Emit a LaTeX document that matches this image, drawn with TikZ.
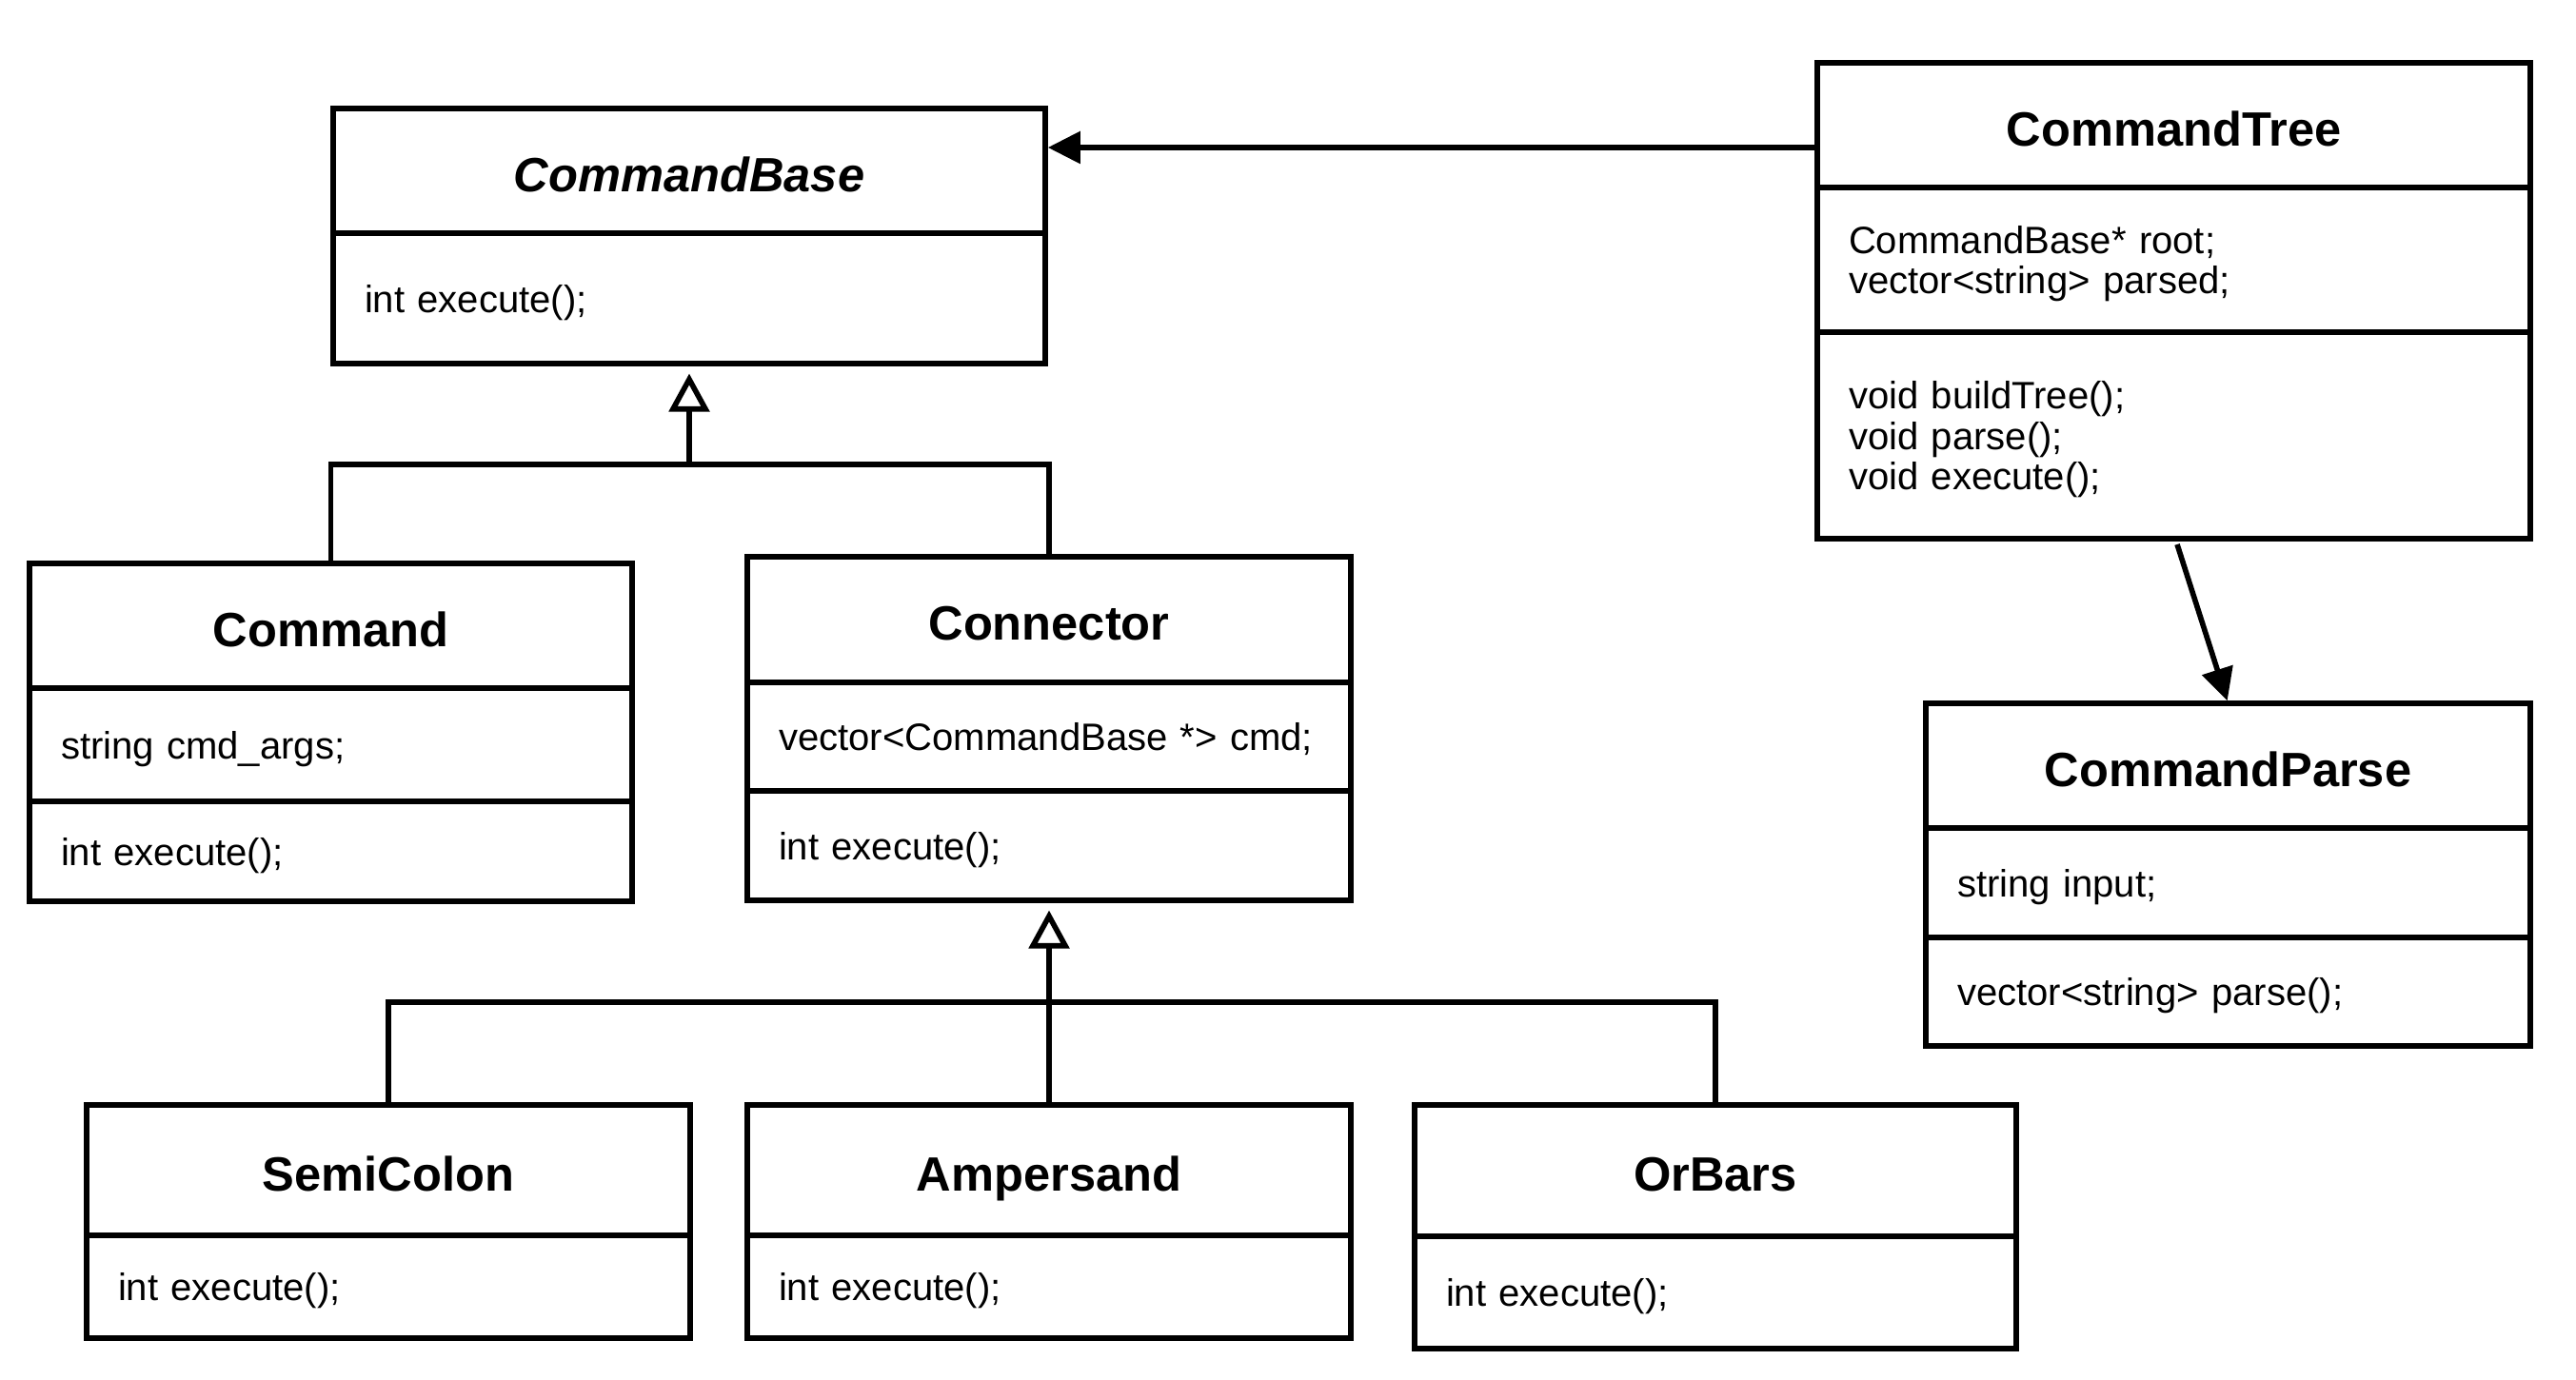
\documentclass[tikz,border=0pt]{standalone}
\usepackage{fontspec}
\setmainfont{Liberation Sans}
\usepackage{tikz}
\usetikzlibrary{arrows.meta, positioning}
\tikzstyle{classname} = [draw, rectangle, line width=1.6pt, inner sep=0, outer sep=0, anchor=north west,
                         text height=12.4pt, text depth=0pt, font=\fontsize{14.4}{17}\selectfont\bfseries]
\tikzstyle{members} = [draw, rectangle, line width=1.6pt, inner xsep=0.33cm, inner ysep=0, outer sep=0, align=left,
                       text depth=0pt, font=\fontsize{11.4}{12.2}\selectfont]
\tikzstyle{bus} = [line width=1.6pt]
\tikzstyle{inherit} = [line width=1.6pt, -{Triangle[open, length=0.4cm, width=0.42cm]}, shorten >=3pt]
\tikzstyle{assoc} = [line width=1.6pt, -{Triangle[length=0.34cm, width=0.33cm]}, shorten >=0.8pt]

\begin{document}
\begin{tikzpicture}
	\useasboundingbox (0, 0) rectangle (27.06, -14.50);

	% abstract base
	\node (Base) [classname, font=\fontsize{14.4}{17}\selectfont\bfseries\itshape, minimum width=7.48cm, minimum height=1.31cm] at (3.50, -1.14) {CommandBase};
	\node (BaseOps) [members, text width=6.82cm, minimum height=1.37cm, below=0pt of Base] {int execute();};

	% tree
	\node (Tree) [classname, minimum width=7.49cm, minimum height=1.31cm] at (19.09, -0.66) {CommandTree};
	\node (TreeAttr) [members, text width=6.83cm, text depth=12.2pt, minimum height=1.52cm, below=0pt of Tree] {CommandBase* root;\\vector\textless string\textgreater\ parsed;};
	\node (TreeOps) [members, text width=6.83cm, text depth=24.4pt, minimum height=2.17cm, below=0pt of TreeAttr] {void buildTree();\\void parse();\\void execute();};

	% parser
	\node (Parse) [classname, minimum width=6.35cm, minimum height=1.31cm] at (20.23, -7.39) {CommandParse};
	\node (ParseAttr) [members, text width=5.69cm, minimum height=1.15cm, below=0pt of Parse] {string input;};
	\node (ParseOps) [members, text width=5.69cm, minimum height=1.14cm, below=0pt of ParseAttr] {vector\textless string\textgreater\ parse();};

	% command
	\node (Cmd) [classname, minimum width=6.33cm, minimum height=1.31cm] at (0.31, -5.92) {Command};
	\node (CmdAttr) [members, text width=5.67cm, minimum height=1.19cm, below=0pt of Cmd] {string cmd\_args;};
	\node (CmdOps) [members, text width=5.67cm, minimum height=1.05cm, below=0pt of CmdAttr] {int execute();};

	% connector
	\node (Conn) [classname, minimum width=6.34cm, minimum height=1.32cm] at (7.85, -5.85) {Connector};
	\node (ConnAttr) [members, text width=5.68cm, minimum height=1.14cm, below=0pt of Conn] {vector\textless CommandBase *\textgreater\ cmd;};
	\node (ConnOps) [members, text width=5.68cm, minimum height=1.15cm, below=0pt of ConnAttr] {int execute();};

	% connector kinds
	\node (Semi) [classname, minimum width=6.34cm, minimum height=1.37cm] at (0.91, -11.61) {SemiColon};
	\node (SemiOps) [members, text width=5.68cm, minimum height=1.08cm, below=0pt of Semi] {int execute();};

	\node (Amp) [classname, minimum width=6.34cm, minimum height=1.37cm] at (7.85, -11.61) {Ampersand};
	\node (AmpOps) [members, text width=5.68cm, minimum height=1.08cm, below=0pt of Amp] {int execute();};

	\node (Or) [classname, minimum width=6.32cm, minimum height=1.38cm] at (14.86, -11.61) {OrBars};
	\node (OrOps) [members, text width=5.66cm, minimum height=1.18cm, below=0pt of Or] {int execute();};

	% inheritance
	\coordinate (BaseBus) at (7.24, -4.88);
	\draw [inherit] (BaseBus) -- (BaseOps.south);
	\draw [bus] (Cmd.north) |- (BaseBus) -| (Conn.north);

	\coordinate (ConnBus) at (11.02, -10.53);
	\draw [inherit] (ConnBus) -- (ConnOps.south);
	\draw [bus] (Amp.north) -- (ConnBus);
	\draw [bus] (Semi.north) |- (ConnBus) -| (Or.north);

	% associations
	\coordinate (TreeLink) at (19.09, -1.55);
	\draw [assoc] (TreeLink) -- (TreeLink -| Base.east);
	\coordinate (TreeDown) at (22.87, -5.72);
	\draw [assoc] (TreeDown) -- (Parse.north);
\end{tikzpicture}
\end{document}
